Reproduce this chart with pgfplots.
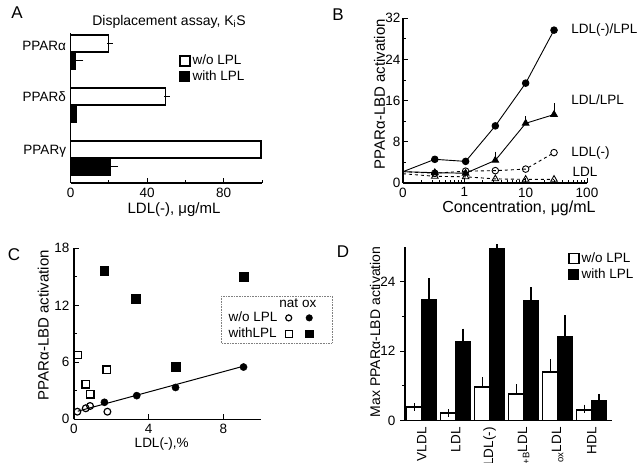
\documentclass[border=0pt]{standalone}
\usepackage{fontspec}
\setmainfont{Liberation Sans}
\usepackage{pgfplots}
\pgfplotsset{compat=1.18}

\newcommand{\tf}{\fontsize{13.5}{15.5}\selectfont}
\newcommand{\lf}{\fontsize{15}{17}\selectfont}

\pgfplotsset{
  panel/.style={
    scale only axis, anchor=south west,
    axis x line*=bottom, axis y line*=left,
    axis line style={line width=1.3pt},
    tick style={black, line width=1pt},
    major tick length=5pt, minor tick length=3pt,
    /pgf/number format/assume math mode=true,
    tick label style={font=\tf},
    label style={font=\lf},
    legend style={font=\tf, draw=none, fill=none},
    legend cell align=left,
    clip=false,
  },
  sqlegend/.style={legend image code/.code={\draw[##1] (0pt,-5pt) rectangle (10pt,5pt);}},
}

\begin{document}
\tf
\begin{tikzpicture}
\path[use as bounding box] (0,0) rectangle (641pt,463pt);

% ---------------- A
\begin{axis}[panel, at={(70.7pt,280pt)}, width=191.3pt, height=150pt,
  xbar, xmin=0, xmax=100, ymin=0.53, ymax=3.36,
  xtick={0,40,80}, minor xtick={20,60,100}, tick align=inside,
  ytick={1.12,2.15,3.12}, yticklabels={PPARγ,PPARδ,PPARα},
  y tick style={draw=none},
  bar width=0.32,
  xlabel={LDL(-), μg/mL},
  x label style={at={(axis description cs:0.54,-0.18)}, anchor=center},
  legend style={at={(0.55,0.88)}, anchor=north west},
  ]
\addplot[fill=white, draw=black, line width=1.5pt, bar shift=0.16, sqlegend,
  error bars/.cd, x dir=plus, x explicit,
  error bar style={line width=1.2pt}, error mark options={line width=1.2pt, mark size=3pt}]
  coordinates {(99.6,1) +- (0,0) (49.5,2) +- (0.6,0) (19.7,3) +- (0.8,0)};
\addplot[fill=black, draw=black, line width=1pt, bar shift=-0.16, sqlegend,
  error bars/.cd, x dir=plus, x explicit,
  error bar style={line width=1.2pt}, error mark options={line width=1.2pt, mark size=3pt}]
  coordinates {(20.6,1) +- (2.6,0) (3,2) +- (0,0) (2.3,3) +- (2.7,0)};
\legend{w/o LPL, with LPL}
\end{axis}

% ---------------- B
\begin{axis}[panel, at={(403pt,280pt)}, width=184pt, height=164.7pt,
  xmode=log, xmin=0.1, xmax=100,
  xtick={0.1,1,10,100}, xticklabels={0,1,10,100},
  ymin=0, ymax=32, ytick={0,8,16,24,32}, minor ytick={4,12,20,28},
  tick align=inside,
  y tick label style={xshift=2pt},
  xlabel={Concentration, μg/mL},
  x label style={at={(axis description cs:0.63,-0.152)}, anchor=center, font=\fontsize{16}{18}\selectfont},
  ylabel={PPARα-LBD activation},
  y label style={at={(axis description cs:-0.128,0.54)}, anchor=center, rotate=0},
  ]
\addplot[black, line width=0.9pt, mark=*, mark size=3.3pt, mark indices={2,3,4,5,6}]
  coordinates {(0.1,2.2) (0.33,4.6) (1.05,4.2) (3.2,11.1) (10,19.4) (29,29.7)};
\addplot[black, line width=0.9pt, mark=triangle*, mark size=3.8pt, mark indices={2,3,4,5,6},
  error bars/.cd, y dir=plus, y explicit, error bar style={line width=1pt}, error mark options={line width=1pt, mark size=3pt}]
  coordinates {(0.1,2.2) (0.33,2.0) (1.05,1.9) +- (0,0) (3.2,4.4) +- (0,1.1) (10,11.6) +- (0,0.8) (29,13.3) +- (0,1.6)};
\addplot[black, line width=0.9pt, dashed, mark=o, mark size=3.3pt, mark indices={2,3,4,5,6},
  mark options={solid, fill=white}]
  coordinates {(0.1,2.2) (0.33,1.9) (1.05,2.3) (3.2,2.4) (10,2.7) (29,5.9)};
\addplot[black, line width=0.9pt, dashed, mark=triangle, mark size=3.8pt, mark indices={2,3,4,5,6},
  mark options={solid, fill=white}]
  coordinates {(0.1,1.8) (0.33,1.3) (1.05,1.2) (3.2,0.8) (10,0.7) (29,0.7)};
\end{axis}

% ---------------- C
\begin{axis}[panel, at={(74pt,43.7pt)}, width=186.7pt, height=171pt,
  xmin=0, xmax=10, ymin=0, ymax=18,
  xtick={0,4,8}, ytick={0,6,12,18}, minor ytick={3,9,15},
  tick align=inside,
  xlabel={LDL(-),\%},
  x label style={at={(axis description cs:0.47,-0.145)}, anchor=center, font=\tf},
  ylabel={PPARα-LBD activation},
  y label style={at={(axis description cs:-0.164,0.551)}, anchor=center, rotate=0},
  legend columns=2, legend plot pos=right,
  legend style={at={(0.80,0.715)}, anchor=north west, /tikz/every odd column/.style={column sep=0pt}},
  ]
\addplot[black, line width=1pt, forget plot] coordinates {(0.2,0.85) (9.1,5.6)};
\addplot[only marks, mark=o, mark size=3.4pt, mark options={fill=white, line width=1.2pt}, forget plot]
  coordinates {(0.18,0.8) (0.63,1.16) (0.86,1.4) (1.79,0.8)};
\addplot[only marks, mark=*, mark size=3.6pt, forget plot]
  coordinates {(1.63,1.79) (3.36,2.49) (5.44,3.35) (9.08,5.5)};
\addplot[only marks, mark=square, mark size=3.8pt, mark options={fill=white, line width=1.3pt}, forget plot]
  coordinates {(0.18,6.77) (0.63,3.68) (0.86,2.63) (1.75,5.2)};
\addplot[only marks, mark=square*, mark size=4.4pt, forget plot]
  coordinates {(1.62,15.6) (3.3,12.7) (5.44,5.5) (9.08,15.0)};
\addlegendimage{legend image code/.code={\node[inner sep=0pt, anchor=base] at (0.3cm,-0.3em) {nat};}}
\addlegendentry{}
\addlegendimage{legend image code/.code={\node[inner sep=0pt, anchor=base] at (0.3cm,-0.3em) {ox};}}
\addlegendentry{}
\addlegendimage{only marks, mark=o, mark size=3pt, mark options={line width=1.2pt}}
\addlegendentry{w/o LPL}
\addlegendimage{only marks, mark=*, mark size=3.3pt}
\addlegendentry{}
\addlegendimage{only marks, mark=square, mark size=3.5pt, mark options={line width=1.2pt}}
\addlegendentry{withLPL}
\addlegendimage{only marks, mark=square*, mark size=3.8pt}
\addlegendentry{}
\end{axis}
\draw[gray, densely dotted, line width=0.6pt] (221pt,167pt) rectangle (332pt,120pt);

% ---------------- D
\begin{axis}[panel, at={(405pt,42.3pt)}, width=206.7pt, height=174pt,
  ybar, bar width=0.44, xmin=0.51, xmax=6.59, ymin=0, ymax=30,
  xtick={1,2,3,4,5,6},
  xticklabels={VLDL,LDL,LDL(-),\textsubscript{+B}LDL,\textsubscript{ox}LDL,HDL},
  x tick label style={rotate=90, anchor=east, inner sep=1.5pt},
  x tick style={draw=none},
  ytick={0,12,24}, minor ytick={6,18}, tick align=outside,
  ylabel={Max PPARα-LBD activation},
  y label style={at={(axis description cs:-0.145,0.511)}, anchor=center, rotate=0, font=\fontsize{14}{16}\selectfont},
  legend style={at={(0.774,0.99)}, anchor=north west},
  ]
\addplot[fill=white, draw=black, line width=1.5pt, bar shift=-0.22, sqlegend,
  error bars/.cd, y dir=plus, y explicit,
  error bar style={line width=1.3pt}, error mark options={line width=1.3pt, mark size=4pt}]
  coordinates {(1,2.4) +- (0,0) (2,1.3) +- (0,0) (3,5.8) +- (0,1.0) (4,4.6) +- (0,1.0) (5,8.4) +- (0,1.5) (6,1.85) +- (0,0.25)};
\addplot[fill=black, draw=black, line width=1pt, bar shift=0.22, sqlegend,
  error bars/.cd, y dir=plus, y explicit,
  error bar style={line width=1.3pt}, error mark options={line width=1.3pt, mark size=4pt}]
  coordinates {(1,20.9) +- (0,3.0) (2,13.6) +- (0,1.6) (3,29.7) +- (0,0) (4,20.8) +- (0,1.5) (5,14.6) +- (0,2.9) (6,3.55) +- (0,0.4)};
\legend{w/o LPL, with LPL}
\end{axis}

% titles, panel letters and curve labels
\node[font=\fontsize{14}{16}\selectfont] at (169pt,441pt) {Displacement assay, K\textsubscript{i}S};
\node[anchor=west] at (566.7pt,433pt) {LDL(-)/LPL};
\node[anchor=west] at (566.7pt,363pt) {LDL/LPL};
\node[anchor=west] at (566.7pt,310pt) {LDL(-)};
\node[anchor=west] at (568pt,291pt) {LDL};
\node[font=\fontsize{17}{19}\selectfont] at (17pt,450pt) {A};
\node[font=\fontsize{17}{19}\selectfont] at (338pt,448pt) {B};
\node[font=\fontsize{17}{19}\selectfont] at (14pt,208pt) {C};
\node[font=\fontsize{17}{19}\selectfont] at (343pt,211pt) {D};
\end{tikzpicture}
\end{document}
